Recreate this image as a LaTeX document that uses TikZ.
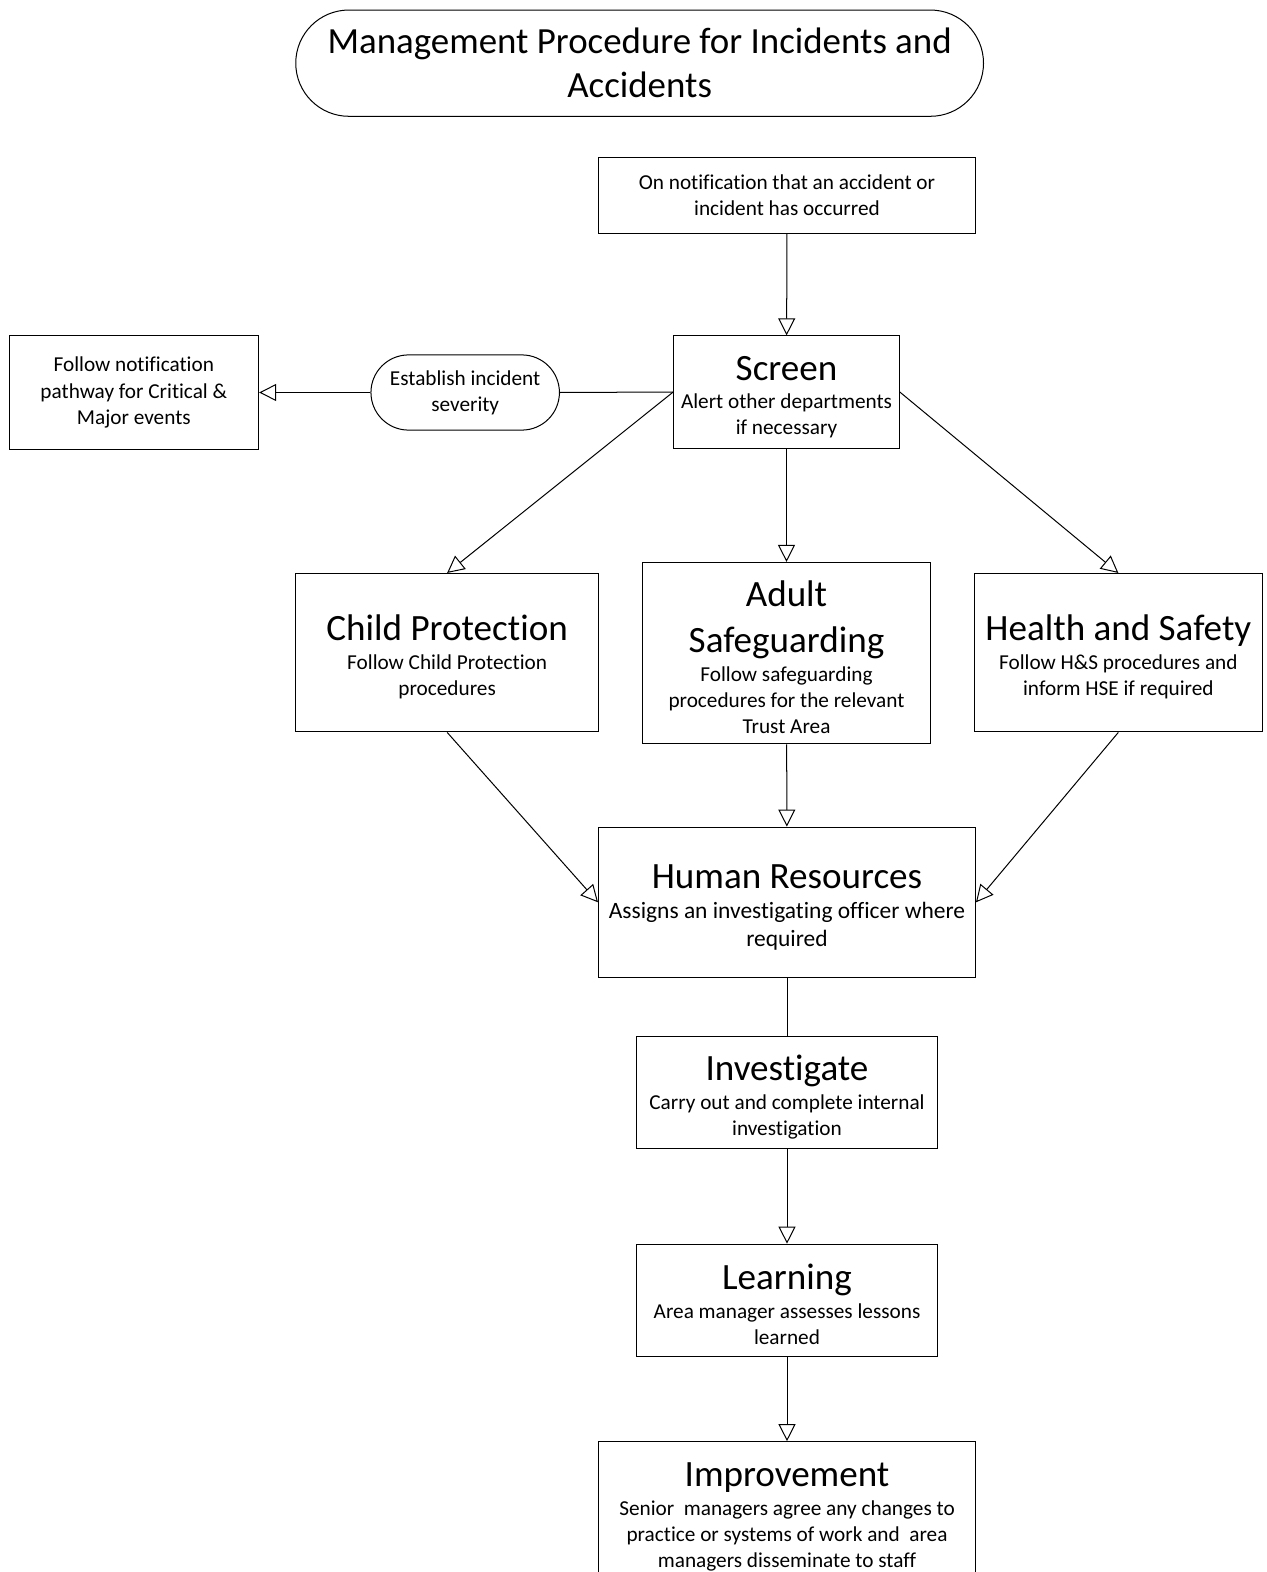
\documentclass[tikz,border=0pt]{standalone}
\usepackage{fontspec}
\setmainfont{Carlito}[Ligatures={NoCommon}]
\usepackage{tikz}
\usetikzlibrary{positioning,arrows.meta}
\newcommand{\headfont}{\fontsize{18.5pt}{22.5pt}\selectfont}
\newcommand{\bodyfont}{\fontsize{10.6pt}{13pt}\selectfont\lineskiplimit=-100pt}
\newcommand{\hrfont}{\fontsize{11.7pt}{14.3pt}\selectfont\lineskiplimit=-100pt}
% heading text inside a box
\newcommand{\boxhead}[1]{{\headfont\rule{0pt}{17pt}#1}}
\tikzset{
  proc-node/.style={draw, line width=0.5pt, font=\bodyfont, align=center,
    inner sep=2pt},
  title-node/.style={draw, line width=0.5pt, rounded corners=26.5pt,
    minimum width=343pt, minimum height=53pt, align=center,
    font=\fontsize{18.4pt}{22pt}\selectfont},
  pill-node/.style={draw, line width=0.5pt, rounded corners=18.75pt,
    minimum width=94pt, minimum height=37.5pt, font=\bodyfont, align=center},
  flow-arrow/.style={-{Triangle[open, length=8.5pt, width=8.5pt]}, line width=0.5pt},
  flow-line/.style={line width=0.5pt}
}

\begin{document}
\begin{tikzpicture}[x=0.5pt, y=-0.5pt]
\useasboundingbox (0,0) rectangle (1263,1568);

% Title at top
\node[title-node] (title) at (638,63) {Management Procedure for Incidents and\\Accidents};

% Notification and screening
\node[proc-node, minimum width=188pt, minimum height=38pt] (notify) at (785,195)
  {On notification that an accident or\\incident has occurred};
\node[proc-node, minimum width=112.5pt, minimum height=56pt] (screen) at (784.5,391)
  {\boxhead{Screen}\\[1pt]Alert other departments\\if necessary};

% Severity branch on the left
\node[pill-node] (severity) at (464,391.5) {Establish incident\\severity};
\node[proc-node, minimum width=124.5pt, minimum height=56.5pt] (pathway) at (133.5,391.5)
  {Follow notification\\pathway for Critical \&\\Major events};

% Three streams
\node[proc-node, minimum width=151pt, minimum height=79pt] (child) at (446,651)
  {\boxhead{Child Protection}\\[1.5pt]Follow Child Protection\\procedures};
\node[proc-node, minimum width=143.5pt, minimum height=90.5pt] (adult) at (784.5,651.5)
  {\boxhead{Adult}\\[9.5pt]\boxhead{Safeguarding}\\[1.5pt]Follow safeguarding\\procedures for the relevant\\Trust Area};
\node[proc-node, minimum width=143.5pt, minimum height=79pt] (safety) at (1115.5,651)
  {\boxhead{Health and Safety}\\[1.5pt]Follow H\&S procedures and\\inform HSE if required};

% HR and follow-up chain
\node[proc-node, minimum width=188pt, minimum height=75pt, font=\hrfont] (hr) at (785,900)
  {\boxhead{Human Resources}\\[0.7pt]Assigns an investigating officer where\\required};
\node[proc-node, below=29pt of hr, minimum width=150.5pt, minimum height=56pt] (investigate)
  {\boxhead{Investigate}\\[1.5pt]Carry out and complete internal\\investigation};
\node[proc-node, below=47pt of investigate, minimum width=150.5pt, minimum height=56pt] (learning)
  {\boxhead{Learning}\\[1.5pt]Area manager assesses lessons\\learned};
\node[proc-node, below=42pt of learning, minimum width=188pt, minimum height=70pt] (improvement)
  {\boxhead{Improvement}\\[1.5pt]Senior\ \ managers agree any changes to\\practice or systems of work and\ \ area\\managers disseminate to staff};

% Connectors
\draw[flow-arrow] (notify) -- (screen);
\draw[flow-line] (screen.west) -- (severity.east);
\draw[flow-arrow] (severity) -- (pathway);
\draw[flow-arrow] (screen.west) -- (child.north);
\draw[flow-arrow] (screen) -- (adult);
\draw[flow-arrow] (screen.east) -- (safety.north);
\draw[flow-arrow] (child.south) -- (hr.west);
\draw[flow-arrow] (adult) -- (hr);
\draw[flow-arrow] (safety.south) -- (hr.east);
\draw[flow-line] (hr) -- (investigate);
\draw[flow-arrow] (investigate) -- (learning);
\draw[flow-arrow] (learning) -- (improvement);
\end{tikzpicture}
\end{document}
